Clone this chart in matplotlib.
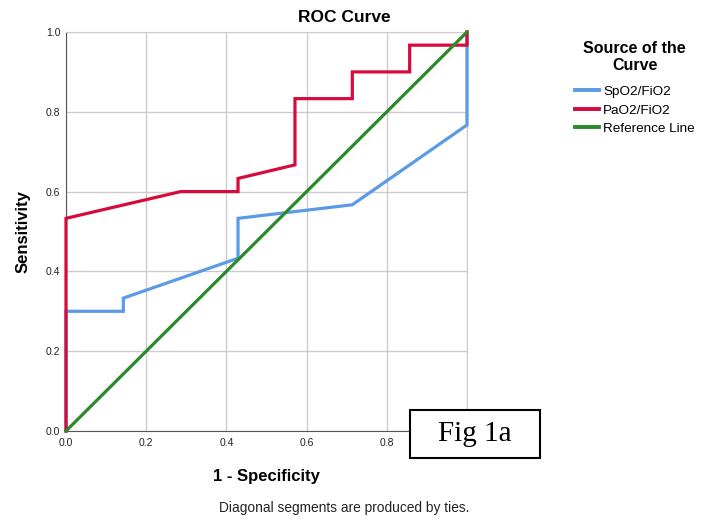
import matplotlib
matplotlib.use('Agg')
from matplotlib import pyplot as plt
from matplotlib.patches import Rectangle

plt.rcParams['font.family'] = ['Liberation Sans', 'DejaVu Sans']

# ROC points (1 - specificity, sensitivity)
spo2_x = [0.0, 0.0, 0.143, 0.143, 0.429, 0.429, 0.714, 1.0, 1.0]
spo2_y = [0.0, 0.3, 0.3, 0.333, 0.433, 0.533, 0.567, 0.767, 1.0]

pao2_x = [0.0, 0.0, 0.286, 0.429, 0.429, 0.571, 0.571, 0.714, 0.714, 0.857, 0.857, 1.0, 1.0]
pao2_y = [0.0, 0.533, 0.6, 0.6, 0.633, 0.667, 0.833, 0.833, 0.9, 0.9, 0.967, 0.967, 1.0]

ref_x = [0.0, 1.0]
ref_y = [0.0, 1.0]

ticks = [0.0, 0.2, 0.4, 0.6, 0.8, 1.0]

fig = plt.figure(figsize=(7.01, 5.21), dpi=100)
ax = fig.add_axes([66/701, 1 - 431/521, 401/701, 399/521])

ax.plot(spo2_x, spo2_y, color='#5b9ae6', linewidth=2.3, label='SpO2/FiO2',
        solid_joinstyle='miter', clip_on=False, zorder=3)
ax.plot(pao2_x, pao2_y, color='#d70a3c', linewidth=2.3, label='PaO2/FiO2',
        solid_joinstyle='miter', clip_on=False, zorder=4)
ax.plot(ref_x, ref_y, color='#2a8a2a', linewidth=2.3, label='Reference Line',
        clip_on=False, zorder=5)

ax.set_xlim(0, 1)
ax.set_ylim(0, 1)
ax.set_xticks(ticks)
ax.set_yticks(ticks)
# the last x label sits under the "Fig 1a" box in the original, so it is left blank
ax.set_xticklabels(['%.1f' % t for t in ticks[:-1]] + [''])
ax.set_yticklabels(['%.1f' % t for t in ticks])
ax.tick_params(axis='x', length=0, labelsize=7.5, colors='#222222', pad=5)
ax.tick_params(axis='y', length=0, labelsize=7.5, colors='#222222', pad=4)
ax.grid(True, color='#cccccc', linewidth=1)
ax.set_axisbelow(True)
for s in ['top', 'right']:
    ax.spines[s].set_color('#cccccc')
for s in ['left', 'bottom']:
    ax.spines[s].set_color('#555555')

ax.set_xlabel('1 - Specificity', fontsize=12, fontweight='bold', labelpad=15)
ax.set_ylabel('Sensitivity', fontsize=12, fontweight='bold', labelpad=11)

fig.text(344/701, 1 - 17/521, 'ROC Curve', fontsize=12.5, fontweight='bold',
         ha='center', va='center')
fig.text(344/701, 1 - 508/521, 'Diagonal segments are produced by ties.',
         fontsize=9.9, ha='center', va='center', color='#222222')

leg = fig.legend(loc='upper left', bbox_to_anchor=(568/701, 1 - 34/521),
                 frameon=False, fontsize=9.7, handlelength=1.8, handletextpad=0.3,
                 labelspacing=0.45, borderpad=0,
                 title='Source of the\nCurve',
                 title_fontproperties={'weight': 'bold', 'size': 11.5})
leg._legend_box.align = 'center'
leg._legend_box.sep = 9
leg.get_title().set_multialignment('center')
for line in leg.get_lines():
    line.set_linewidth(2.8)

# "Fig 1a" box
fig.patches.append(Rectangle((410/701, 1 - 458/521), 130/701, 48/521,
                             transform=fig.transFigure, facecolor='white',
                             edgecolor='black', linewidth=1.5, zorder=10))
fig.text(475/701, 1 - 434/521, 'Fig 1a', fontsize=21, family='Liberation Serif',
         ha='center', va='center', zorder=11)

plt.savefig('out.png', dpi=100)
